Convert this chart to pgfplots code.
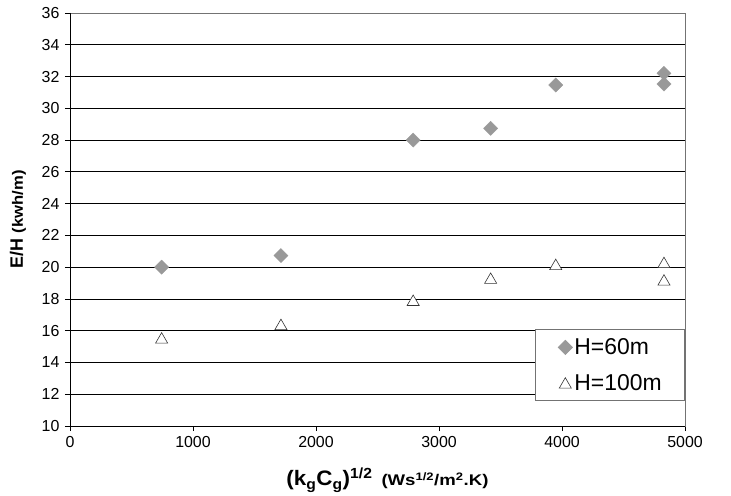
\documentclass[border=0pt]{standalone}
\usepackage{fontspec}
\setmainfont{Liberation Sans}
\usepackage{graphicx}
\usepackage{pgfplots}
\pgfplotsset{compat=1.18}
\definecolor{dgray}{RGB}{153,153,153}
\begin{document}
\begin{tikzpicture}[x=1bp,y=1bp]
\begin{axis}[
  at={(0,0)}, anchor=south west,
  scale only axis, width=615bp, height=413bp,
  xmin=0, xmax=5000, ymin=10, ymax=36,
  xtick={0,1000,...,5000}, ytick={10,12,...,36},
  ymajorgrids, grid style={black, line width=0.8pt},
  axis line style={black!55, line width=0.8pt},
  tick style={black, line width=0.8pt},
  tick align=outside, major tick length=5bp,
  xtick pos=bottom, ytick pos=left,
  /pgf/number format/assume math mode=true,
  /pgf/number format/1000 sep={},
  ticklabel style={font=\fontsize{16}{18}\selectfont},
  xticklabel style={yshift=-2bp},
  yticklabel style={xshift=-2bp},
  xlabel={\resizebox{86bp}{\height}{\fontsize{21}{24}\selectfont\bfseries (k\textsubscript{g}C\textsubscript{g})\textsuperscript{1/2}}\hspace{9bp}\resizebox{107bp}{\height}{\fontsize{15.5}{18}\selectfont\bfseries (Ws\textsuperscript{1/2}/m\textsuperscript{2}.K)}},
  ylabel={\fontsize{18}{20}\selectfont\bfseries E/H\hspace{6bp}\resizebox{63bp}{\height}{\fontsize{15}{17}\selectfont\bfseries (kwh/m)}},
  xlabel style={at={(rel axis cs:0.5,0)}, anchor=center, xshift=10bp, yshift=-54bp},
  ylabel style={at={(rel axis cs:0,0.5)}, anchor=center, yshift=52bp},
  legend style={at={(rel axis cs:1,0.0605)}, anchor=south east, draw=black!55, line width=0.8pt, fill=white,
    font=\fontsize{23}{26}\selectfont, inner xsep=4bp, inner ysep=7bp, row sep=14bp},
  legend cell align=left,
  legend image code/.code={\path (-26bp,0bp) (5bp,0bp); \draw[#1] plot coordinates {(0bp,0bp)};},
  after end axis/.code={\draw[black, line width=0.8pt] (rel axis cs:0,1) -- (rel axis cs:0,0) -- (rel axis cs:1,0);},
]
\addplot[only marks, mark=square*, mark size=5bp, mark options={rotate=45, fill=dgray, draw=dgray}]
  coordinates {(745,20.0) (1715,20.73) (2790,28.0) (3420,28.74) (3949,31.47) (4829,32.2) (4829,31.53)};
\addlegendentry{H=60m}
\addplot[only marks, mark=triangle*, mark size=7bp, mark options={fill=white, draw=black!80, line width=0.6pt, yshift=-1.8bp}]
  coordinates {(745,15.55) (1715,16.4) (2790,17.92) (3420,19.31) (3949,20.18) (4829,20.3) (4829,19.2)};
\addlegendentry{H=100m\hspace*{17bp}}
\end{axis}
\path[use as bounding box] (-70,-69) rectangle (661,426);
\end{tikzpicture}
\end{document}
